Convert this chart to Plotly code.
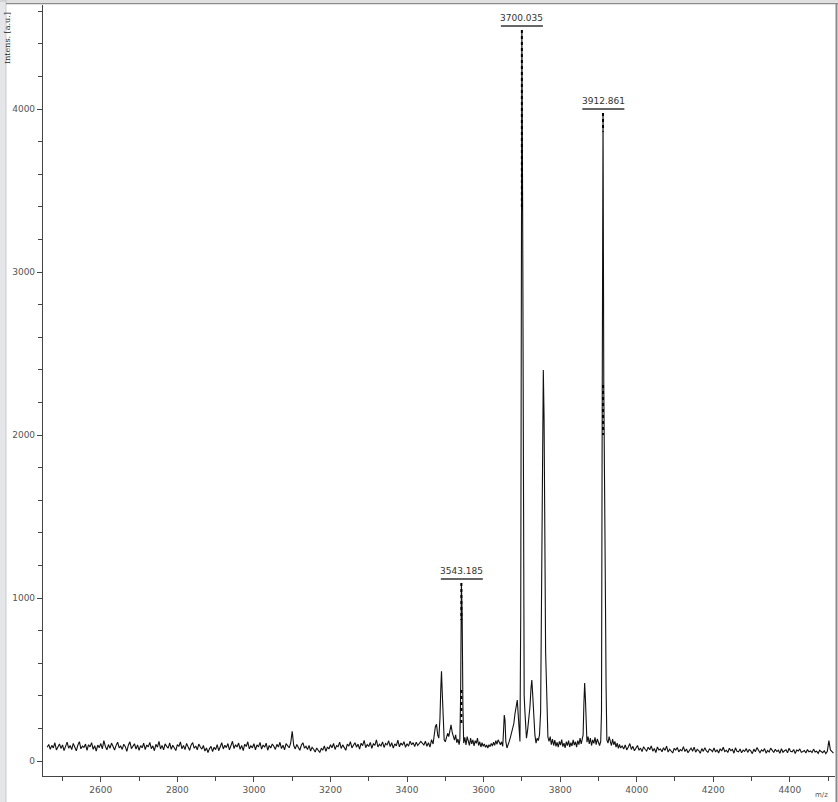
import plotly.graph_objects as go

# ---------------- data ----------------
# Left baseline region, sampled every 4 Da from 2460 to 3436
LEFT_MZ = list(range(2460, 3440, 4))
LEFT_INT = [
    84, 102, 71, 96, 80, 112, 68, 93, 105, 77, 99, 64, 88, 116, 79, 95, 70, 108, 86, 62,
    97, 119, 75, 91, 83, 104, 66, 100, 87, 113, 72, 94, 61, 98, 82, 107, 74, 125, 89, 69,
    101, 78, 110, 85, 67, 96, 115, 80, 92, 71, 103, 88, 59, 97, 118, 76, 90, 106, 73, 99,
    65, 94, 81, 109, 70, 98, 87, 114, 76, 93, 63, 102, 85, 120, 74, 96, 68, 105, 90, 79,
    111, 72, 97, 84, 64, 101, 89, 117, 75, 95, 70, 108, 82, 66, 99, 113, 78, 92, 69, 104,
    86, 73, 95, 61, 80, 52, 76, 90, 58, 84, 70, 101, 63, 88, 112, 74, 97, 82, 107, 68,
    94, 121, 77, 100, 86, 110, 72, 96, 64, 103, 89, 118, 75, 93, 81, 106, 69, 99, 87, 114,
    73, 98, 84, 109, 66, 95, 80, 104, 91, 71, 102, 86, 115, 76, 97, 68, 107, 92, 81, 110,
    182, 95, 74, 101, 87, 66, 98, 112, 79, 90, 70, 96, 61, 84, 72, 55, 80, 64, 52, 77,
    68, 93, 59, 86, 74, 100, 81, 108, 71, 95, 88, 116, 77, 99, 84, 66, 103, 91, 119, 80,
    97, 112, 85, 104, 73, 109, 94, 127, 82, 101, 89, 114, 78, 106, 96, 130, 86, 103, 92, 117,
    83, 108, 99, 124, 88, 112, 79, 105, 93, 128, 87, 110, 97, 119, 84, 106, 91, 122, 100, 113,
    89, 116, 95, 107, 120,
]

# Peak cluster region
PEAK_MZ = [
    3444, 3448, 3452, 3456, 3460, 3464, 3468, 3471, 3474, 3477, 3480, 3483, 3486, 3488, 3490,
    3492, 3494, 3497, 3500, 3503, 3506, 3509, 3512, 3515, 3518, 3521, 3524, 3527, 3530, 3533,
    3536, 3538, 3540, 3542, 3544, 3546, 3548, 3551, 3554, 3557, 3560, 3563, 3566, 3569, 3572,
    3575, 3578, 3581, 3584, 3587, 3590, 3593, 3596, 3599, 3602, 3605, 3608, 3611, 3614, 3617,
    3620, 3623, 3626, 3629, 3632, 3635, 3638, 3641, 3644, 3647, 3650, 3652, 3654, 3656, 3658,
    3661, 3664, 3667, 3670, 3673, 3676, 3679, 3682, 3685, 3688, 3690, 3693, 3695, 3697, 3699,
    3700, 3702, 3704, 3706, 3708, 3710, 3712, 3715, 3718, 3721, 3724, 3726, 3728, 3730, 3732,
    3734, 3737, 3740, 3743, 3746, 3749, 3751, 3753, 3756, 3758, 3760, 3762, 3764, 3766, 3768,
    3771, 3774, 3777, 3780, 3783, 3786, 3789, 3792, 3795, 3798, 3801, 3804, 3807, 3810, 3813,
    3816, 3819, 3822, 3825, 3828, 3831, 3834, 3837, 3840, 3843, 3846, 3849, 3852, 3855, 3858,
    3860, 3862, 3864, 3866, 3868, 3870, 3873, 3876, 3879, 3882, 3885, 3888, 3891, 3894, 3897,
    3900, 3903, 3906, 3908, 3910, 3912, 3914, 3916, 3918, 3920, 3922, 3925, 3928, 3931, 3934,
    3937, 3940, 3943, 3946, 3949, 3952, 3955, 3958,
]
PEAK_INT = [
    98, 121, 90, 112, 85, 131, 104, 150, 210, 225, 160, 140, 260, 430, 550,
    420, 230, 130, 118, 145, 170, 150, 190, 222, 175, 150, 128, 160, 112, 135,
    100, 130, 400, 1092, 900, 330, 110, 145, 98, 150, 120, 96, 140, 105, 130,
    92, 125, 108, 140, 95, 118, 86, 112, 90, 105, 84, 98, 80, 100, 88,
    108, 92, 115, 96, 125, 103, 130, 112, 100, 118, 90, 180, 282, 250, 120,
    80, 95, 120, 145, 170, 190, 230, 290, 330, 374, 300, 180, 120, 900, 3400,
    4485, 3380, 1450, 400, 300, 150, 140, 190, 260, 330, 450, 497, 420, 300, 220,
    160, 110, 140, 125, 160, 300, 1000, 2000, 2399, 2100, 1200, 670, 500, 200, 147,
    120, 150, 100, 135, 95, 128, 90, 115, 85, 120, 98, 132, 88, 110, 80,
    118, 94, 125, 86, 112, 92, 130, 98, 118, 85, 125, 100, 140, 105, 130,
    160, 350, 479, 380, 150, 115, 150, 105, 140, 95, 130, 108, 145, 100, 135,
    112, 95, 120, 300, 2300, 3975, 2300, 1130, 1100, 456, 130, 110, 150, 120, 95,
    135, 100, 120, 85, 110, 78, 102, 80,
]

# Right baseline region, sampled every 4 Da from 3962 to 4514
RIGHT_MZ = list(range(3962, 4518, 4))
RIGHT_INT = [
    92, 74, 99, 68, 86, 107, 71, 90, 63, 82, 95, 66, 79, 58, 88, 72, 61, 84, 69, 93,
    60, 77, 52, 86, 68, 74, 57, 81, 65, 91, 55, 72, 63, 49, 78, 67, 83, 56, 70, 62,
    88, 58, 74, 51, 66, 79, 60, 85, 54, 71, 64, 47, 76, 59, 82, 62, 53, 73, 68, 57,
    80, 55, 69, 49, 75, 61, 84, 58, 66, 52, 78, 63, 71, 48, 81, 60, 56, 74, 50, 67,
    59, 77, 53, 70, 62, 45, 73, 57, 82, 64, 51, 68, 60, 76, 48, 65, 55, 79, 61, 52,
    72, 58, 66, 47, 75, 54, 63, 69, 50, 78, 59, 56, 71, 46, 67, 61, 74, 53, 58, 64,
    49, 70, 57, 62, 52, 73, 55, 60, 47, 66, 58, 51, 63, 45, 59, 125, 68, 54, 48,
]

# Labelled peaks
LABEL_MZ = [3543.185, 3700.035, 3912.861]
LABEL_TEXT = ["3543.185", "3700.035", "3912.861"]
LABEL_INT = [1092, 4485, 3975]
# Dotted annotation segments drawn over the peaks: (mz, top, bottom)
DOT_MZ = [3542, 3542, 3700, 3912, 3912]
DOT_TOP = [1092, 435, 4485, 3975, 2307]
DOT_BOTTOM = [865, 221, 3380, 3860, 2000]

X_TICKS = [2600, 2800, 3000, 3200, 3400, 3600, 3800, 4000, 4200, 4400]
Y_TICKS = [0, 1000, 2000, 3000, 4000]

# ---------------- figure ----------------
W, H = 838, 802
ML, MR, MT, MB = 43, 3, 5, 26
PW, PH = W - ML - MR, H - MT - MB

mz = LEFT_MZ + PEAK_MZ + RIGHT_MZ
inten = LEFT_INT + PEAK_INT + RIGHT_INT

fig = go.Figure()
fig.add_trace(go.Scatter(x=mz, y=inten, mode="lines",
                         line=dict(color="#111111", width=1.1),
                         hoverinfo="skip", showlegend=False))

dx, dy = [], []
for m, t, b in zip(DOT_MZ, DOT_TOP, DOT_BOTTOM):
    dx += [m, m, None]
    dy += [t, b, None]
fig.add_trace(go.Scatter(x=dx, y=dy, mode="lines",
                         line=dict(color="#000000", width=2, dash="dot"),
                         hoverinfo="skip", showlegend=False))

shapes = []
annotations = []
for m, t, v in zip(LABEL_MZ, LABEL_TEXT, LABEL_INT):
    shapes.append(dict(type="line", xref="x", yref="y",
                       xsizemode="pixel", xanchor=m, x0=-21, x1=21,
                       ysizemode="pixel", yanchor=v, y0=4, y1=4,
                       line=dict(color="#333333", width=1.5)))
    annotations.append(dict(x=m, y=v, xref="x", yref="y", text=t, showarrow=False,
                            yanchor="bottom", yshift=5,
                            font=dict(family="DejaVu Sans", size=9, color="#333333")))

# window chrome
shapes += [
    dict(type="rect", xref="paper", yref="paper", layer="below",
         x0=-ML / PW, x1=-(ML - 6) / PW, y0=-MB / PH, y1=1 + MT / PH,
         fillcolor="#e4e6ea", line=dict(width=0)),
    dict(type="line", xref="paper", yref="paper",
         x0=-(ML - 6) / PW, x1=-(ML - 6) / PW, y0=-MB / PH, y1=1 + MT / PH,
         line=dict(color="#c8cacd", width=1)),
    dict(type="line", xref="paper", yref="paper",
         x0=-ML / PW, x1=1 + MR / PW, y0=1 + (MT - 1) / PH, y1=1 + (MT - 1) / PH,
         line=dict(color="#c0c0c0", width=1)),
    dict(type="line", xref="paper", yref="paper",
         x0=-(ML - 6) / PW, x1=1 + MR / PW, y0=1 + (MT - 3.5) / PH, y1=1 + (MT - 3.5) / PH,
         line=dict(color="#8a8a8a", width=1.5)),
    dict(type="line", xref="paper", yref="paper",
         x0=1 + 1.5 / PW, x1=1 + 1.5 / PW, y0=-MB / PH, y1=1 + (MT - 3.5) / PH,
         line=dict(color="#8a8a8a", width=2)),
]

annotations += [
    dict(text="Intens. [a.u.]", xref="paper", yref="paper",
         x=-35 / PW, y=1 - 33 / PH, xanchor="center", yanchor="middle",
         textangle=-90, showarrow=False,
         font=dict(family="DejaVu Serif", size=8, color="#222222")),
    dict(text="m/z", xref="paper", yref="paper",
         x=1 - 14 / PW, y=-19 / PH, xanchor="center", yanchor="middle",
         showarrow=False, font=dict(family="DejaVu Sans", size=7, color="#555555")),
]

axis_common = dict(showline=True, linecolor="#444444", linewidth=1.2,
                   ticks="outside", ticklen=5, tickcolor="#444444", tickwidth=1,
                   showgrid=False, zeroline=False,
                   tickfont=dict(family="DejaVu Sans", size=9, color="#555555"))

fig.update_layout(
    width=W, height=H,
    margin=dict(l=ML, r=MR, t=MT, b=MB, pad=0),
    paper_bgcolor="white", plot_bgcolor="white",
    xaxis=dict(range=[2449, 4518], tickvals=X_TICKS,
               minor=dict(dtick=100, tick0=2500, ticks="outside", ticklen=4,
                          tickcolor="#444444", showgrid=False),
               **axis_common),
    yaxis=dict(range=[-92, 4638], tickvals=Y_TICKS,
               minor=dict(dtick=200, tick0=0, ticks="outside", ticklen=4,
                          tickcolor="#444444", showgrid=False),
               **axis_common),
    shapes=shapes, annotations=annotations,
    showlegend=False,
)

fig.write_html("out.html",
               config={"displayModeBar": False},
               post_script="document.body.style.margin='0px';document.body.style.overflow='hidden';")
